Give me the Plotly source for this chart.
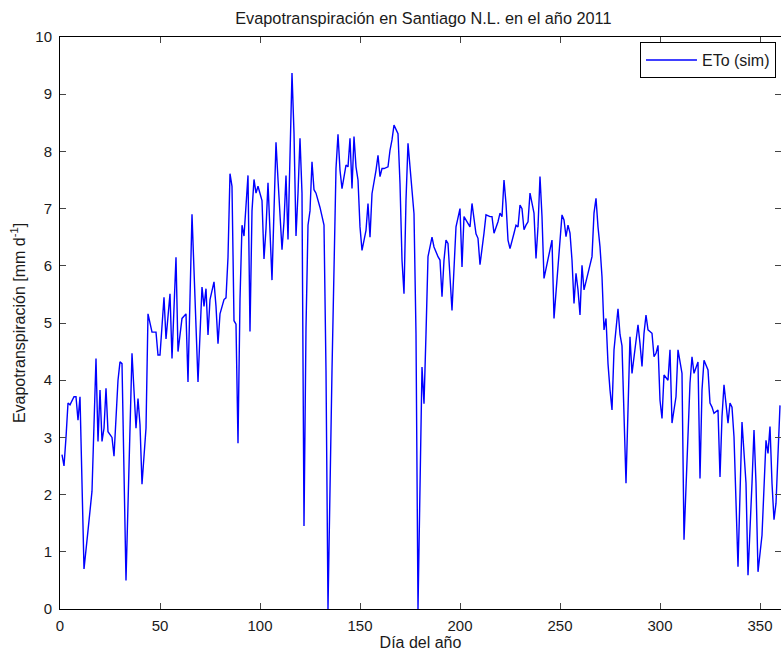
import plotly.graph_objects as go

# dia del año y ETo
dia = [1, 2, 3, 4, 5, 6, 7, 8, 9, 10, 12, 14, 16, 18, 19, 20, 21, 22, 23, 24,
       26, 27, 29, 30, 31, 33, 35, 36, 38, 39, 40, 41, 43, 44, 46, 48, 49, 50, 52, 53,
       55, 56, 58, 59, 61, 63, 64, 66, 69, 71, 72, 73, 74, 75, 77, 78, 79, 80, 82, 83,
       84, 85, 86, 87, 88, 89, 90, 91, 92, 93, 94, 95, 96, 97, 98, 99, 101, 102, 103, 104,
       105, 106, 107, 108, 109, 111, 112, 113, 114, 115, 116, 117, 118, 119, 120, 121, 122, 123, 124, 125,
       126, 127, 128, 130, 131, 132, 133, 134, 136, 137, 138, 139, 140, 141, 143, 144, 145, 146, 147, 148,
       149, 150, 151, 153, 154, 155, 156, 158, 159, 160, 161, 162, 164, 165, 166, 167, 169, 170, 171, 172,
       173, 174, 176, 177, 178, 179, 181, 182, 183, 184, 186, 187, 189, 190, 191, 192, 193, 194, 196, 197,
       198, 200, 201, 202, 203, 205, 206, 208, 209, 210, 212, 213, 215, 216, 217, 219, 220, 221, 222, 223,
       224, 225, 227, 228, 229, 230, 231, 232, 233, 234, 235, 237, 238, 239, 240, 241, 242, 244, 245, 246,
       247, 249, 250, 251, 252, 253, 254, 255, 256, 257, 258, 259, 260, 261, 262, 264, 265, 266, 267, 268,
       269, 270, 271, 272, 273, 274, 275, 276, 277, 279, 280, 281, 283, 284, 285, 286, 288, 289, 290, 291,
       292, 293, 294, 296, 297, 298, 299, 300, 301, 302, 304, 305, 306, 308, 309, 311, 312, 314, 315, 316,
       317, 319, 320, 321, 322, 324, 325, 326, 327, 329, 330, 331, 332, 334, 335, 336, 337, 339, 340, 341,
       343, 344, 346, 347, 348, 349, 351, 352, 353, 354, 355, 356, 357, 358, 359, 360]

eto = [2.70, 2.50, 3.00, 3.60, 3.57, 3.65, 3.71, 3.71, 3.30, 3.71, 0.70, 1.37, 2.06, 4.38, 2.93, 3.83, 2.93, 3.16, 3.86, 3.10,
       3.00, 2.67, 4.00, 4.32, 4.29, 0.50, 3.10, 4.47, 3.16, 3.68, 3.22, 2.18, 3.16, 5.16, 4.84, 4.84, 4.44, 4.44, 5.45, 4.72,
       5.51, 4.38, 6.15, 4.50, 5.08, 5.16, 3.97, 6.90, 3.97, 5.63, 5.29, 5.60, 4.79, 5.41, 5.72, 5.29, 4.64, 5.16, 5.41, 5.44,
       6.15, 7.61, 7.39, 5.04, 4.98, 2.90, 5.41, 6.71, 6.52, 7.02, 7.58, 4.85, 6.96, 7.51, 7.27, 7.39, 7.14, 6.12, 6.65, 7.45,
       6.65, 5.75, 6.96, 8.16, 7.51, 6.28, 6.77, 7.58, 6.46, 7.88, 9.37, 8.32, 6.52, 7.27, 8.23, 7.27, 1.45, 4.92, 6.71, 6.96,
       7.82, 7.33, 7.27, 7.02, 6.83, 6.71, 4.17, 0.00, 4.17, 6.34, 7.70, 8.30, 7.67, 7.35, 7.76, 7.73, 8.23, 7.35, 8.26, 7.73,
       7.50, 6.68, 6.27, 6.62, 7.09, 6.50, 7.26, 7.67, 7.93, 7.56, 7.70, 7.70, 7.73, 8.02, 8.20, 8.46, 8.31, 7.44, 6.10, 5.51,
       7.15, 8.14, 7.26, 6.91, 4.81, 0.00, 4.23, 3.59, 4.81, 6.16, 6.50, 6.33, 6.16, 6.10, 5.46, 6.10, 6.45, 6.39, 5.22, 5.98,
       6.68, 7.00, 5.98, 6.86, 6.80, 6.68, 7.09, 6.56, 6.48, 6.02, 6.57, 6.89, 6.86, 6.86, 6.57, 6.77, 6.92, 6.86, 7.50, 7.09,
       6.45, 6.30, 6.57, 6.71, 6.68, 7.06, 7.00, 6.63, 6.71, 6.77, 7.27, 6.92, 6.13, 6.68, 7.56, 6.86, 5.78, 6.10, 6.27, 6.45,
       5.08, 6.04, 6.57, 6.89, 6.80, 6.51, 6.71, 6.57, 6.10, 5.34, 5.87, 5.58, 5.14, 6.01, 5.58, 5.87, 6.04, 6.16, 6.92, 7.18,
       6.68, 6.33, 5.81, 4.88, 5.08, 4.29, 3.83, 3.48, 4.53, 5.25, 4.80, 4.60, 2.20, 3.65, 4.76, 4.12, 4.64, 4.97, 4.64, 4.24,
       4.82, 5.14, 4.88, 4.82, 4.41, 4.47, 4.61, 3.65, 3.33, 4.09, 4.00, 4.53, 3.25, 3.71, 4.53, 4.12, 1.21, 3.01, 3.95, 4.41,
       4.12, 4.32, 2.28, 3.83, 4.35, 4.18, 3.60, 3.53, 3.42, 3.48, 2.31, 3.36, 3.92, 3.25, 3.60, 3.53, 3.01, 0.74, 2.20, 3.27,
       2.20, 0.59, 2.20, 3.13, 2.20, 0.65, 1.29, 2.20, 2.95, 2.72, 3.19, 2.20, 1.56, 1.85, 2.78, 3.56]

xticks = [0, 50, 100, 150, 200, 250, 300, 350]
yticks = [0, 1, 2, 3, 4, 5, 6, 7, 8, 9, 10]

fam = "Liberation Sans, Arial, sans-serif"
ink = "#1a1a1a"

fig = go.Figure()
fig.add_trace(go.Scatter(x=dia, y=eto, mode="lines", name="ETo (sim)",
                         line=dict(color="#0000ff", width=1.4)))

fig.update_layout(
    width=781, height=651, autosize=False,
    margin=dict(l=60, r=0, t=37, b=42),
    paper_bgcolor="white", plot_bgcolor="white",
    font=dict(family=fam, size=15, color=ink),
    title=dict(text="Evapotranspiración en Santiago N.L. en el año 2011",
               x=0.504, xref="paper", xanchor="center", y=0.972, yanchor="middle",
               font=dict(family=fam, size=16.3, color=ink)),
    showlegend=True,
    # la leyenda debe caber en la figura, si no empuja el margen derecho
    legend=dict(x=0.8044, y=0.991, xanchor="left", yanchor="top",
                bgcolor="white", bordercolor="black", borderwidth=1,
                font=dict(family=fam, size=16, color=ink), itemwidth=51),
)
fig.update_xaxes(range=[0, 360.5], tickvals=xticks, ticks="inside", ticklen=6,
                 showline=True, linecolor="black", mirror="ticks", showgrid=False,
                 zeroline=False, automargin=False, ticklabelstandoff=3,
                 tickfont=dict(family=fam, size=15, color=ink),
                 title=dict(text="Día del año", standoff=2,
                            font=dict(family=fam, size=16, color=ink)))
fig.update_yaxes(range=[0, 10], tickvals=yticks, ticks="inside", ticklen=6,
                 showline=True, linecolor="black", mirror="ticks", showgrid=False,
                 zeroline=False, automargin=False, ticklabelstandoff=4,
                 tickfont=dict(family=fam, size=15, color=ink),
                 title=dict(text="Evapotranspiración [mm d<sup>-1</sup>]", standoff=5,
                            font=dict(family=fam, size=16, color=ink)))

# sin margen ni barras de desplazamiento: la figura ocupa toda la ventana
fig.write_html("out.html",
               config={"responsive": False, "displayModeBar": False},
               post_script="document.body.style.margin='0';document.body.style.overflow='hidden';")
